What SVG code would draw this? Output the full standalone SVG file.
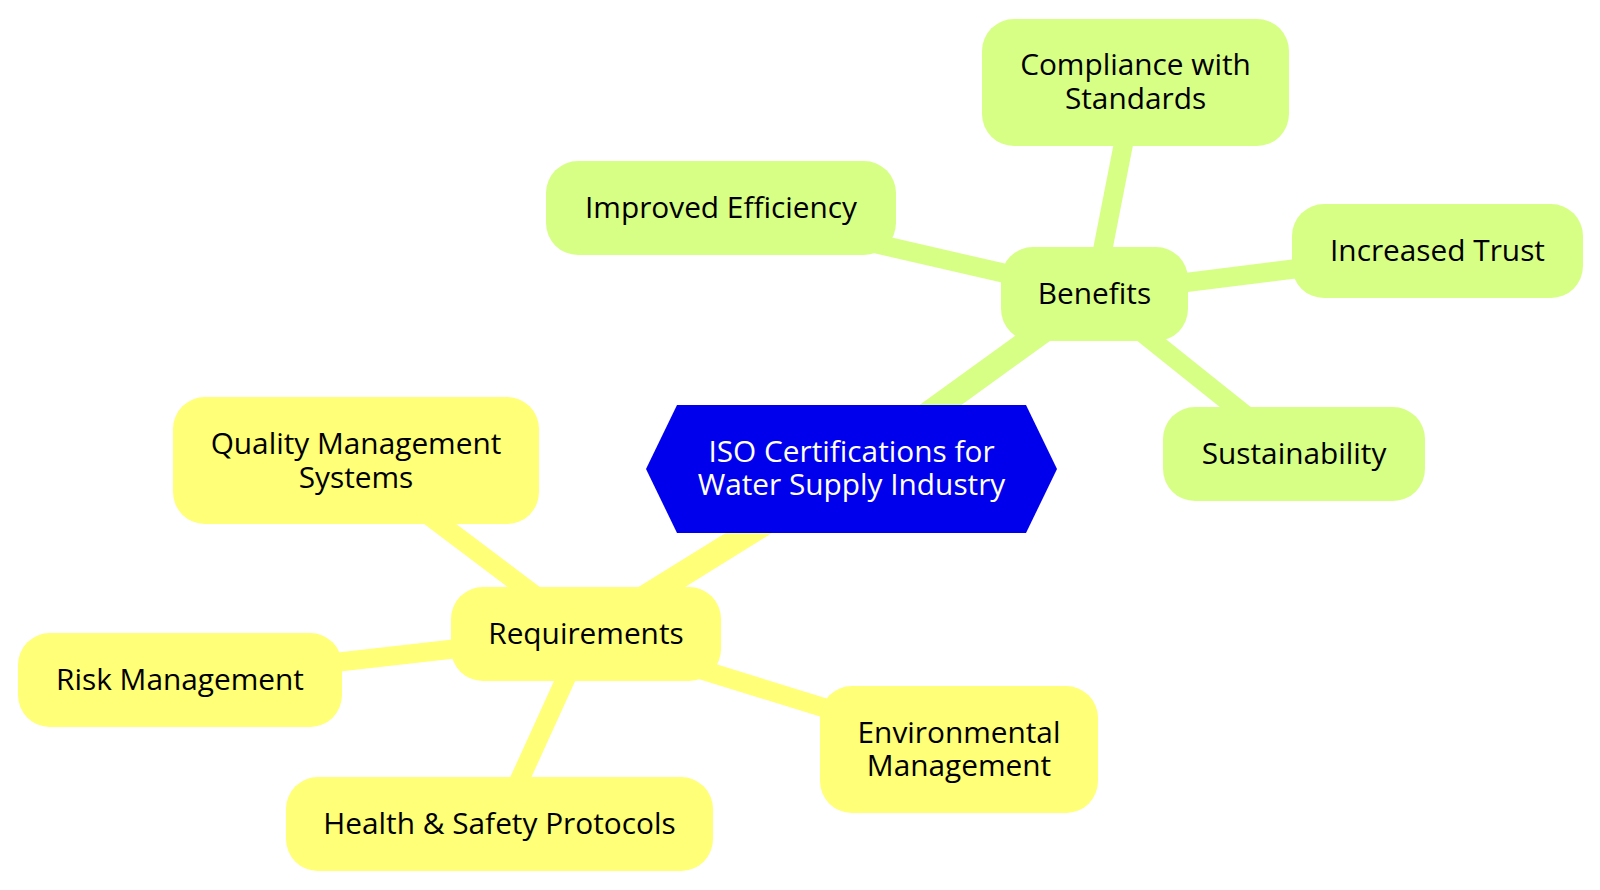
<svg xmlns="http://www.w3.org/2000/svg" width="1600" height="890" viewBox="0 0 1600 890">
<style>
.edge{fill:none;stroke-linecap:butt}
.e1{stroke-width:24.5}
.e2{stroke-width:19.25}
.g{fill:#d7ff86;stroke:none}
.y{fill:#ffff78;stroke:none}
.eg{stroke:#d7ff86}
.ey{stroke:#ffff78}
.t{font-family:"Open Sans","Noto Sans","Liberation Sans",sans-serif;font-size:29.8px;text-anchor:middle;fill:#000}
.tw{fill:#fff}
</style>
<rect width="1600" height="890" fill="#fff"/>
<g id="connectors">
<line class="edge e1 eg" x1="852" y1="469" x2="1094" y2="294"/>
<line class="edge e1 ey" x1="852" y1="469" x2="586" y2="634"/>
<line class="edge e2 eg" x1="1094" y1="294" x2="1135.5" y2="82.5"/>
<line class="edge e2 eg" x1="1094" y1="294" x2="721" y2="208"/>
<line class="edge e2 eg" x1="1094" y1="294" x2="1437.5" y2="251"/>
<line class="edge e2 eg" x1="1094" y1="294" x2="1294" y2="454"/>
<line class="edge e2 ey" x1="586" y1="634" x2="356" y2="460.5"/>
<line class="edge e2 ey" x1="586" y1="634" x2="180" y2="680"/>
<line class="edge e2 ey" x1="586" y1="634" x2="499.5" y2="824"/>
<line class="edge e2 ey" x1="586" y1="634" x2="959" y2="749.5"/>
</g>
<g id="root">
<polygon points="646,469 677,405 1026,405 1057,469 1026,533 677,533" fill="#0000ec"/>
<text class="t tw" x="851.5" y="461.5">ISO Certifications for</text>
<text class="t tw" x="851.5" y="495">Water Supply Industry</text>
</g>
<g id="benefits">
<rect class="g" x="1001" y="247" width="187" height="94" rx="32"/>
<text class="t" x="1094.5" y="304">Benefits</text>
</g>
<g id="compliance">
<rect class="g" x="982" y="19" width="307" height="127" rx="32"/>
<text class="t" x="1135.5" y="75">Compliance with</text>
<text class="t" x="1135.5" y="108.5">Standards</text>
</g>
<g id="efficiency">
<rect class="g" x="546" y="161" width="350" height="94" rx="32"/>
<text class="t" x="721" y="218">Improved Efficiency</text>
</g>
<g id="trust">
<rect class="g" x="1292" y="204" width="291" height="94" rx="32"/>
<text class="t" x="1437.5" y="261">Increased Trust</text>
</g>
<g id="sustainability">
<rect class="g" x="1163" y="407" width="262" height="94" rx="32"/>
<text class="t" x="1294" y="464">Sustainability</text>
</g>
<g id="requirements">
<rect class="y" x="451" y="587" width="270" height="94" rx="32"/>
<text class="t" x="586" y="644">Requirements</text>
</g>
<g id="quality">
<rect class="y" x="173" y="397" width="366" height="127" rx="32"/>
<text class="t" x="356" y="454">Quality Management</text>
<text class="t" x="356" y="487.5">Systems</text>
</g>
<g id="risk">
<rect class="y" x="18" y="633" width="324" height="94" rx="32"/>
<text class="t" x="180" y="690">Risk Management</text>
</g>
<g id="health">
<rect class="y" x="286" y="777" width="427" height="94" rx="32"/>
<text class="t" x="499.5" y="834">Health &amp; Safety Protocols</text>
</g>
<g id="environmental">
<rect class="y" x="820" y="686" width="278" height="127" rx="32"/>
<text class="t" x="959" y="742.5">Environmental</text>
<text class="t" x="959" y="776">Management</text>
</g>
</svg>
